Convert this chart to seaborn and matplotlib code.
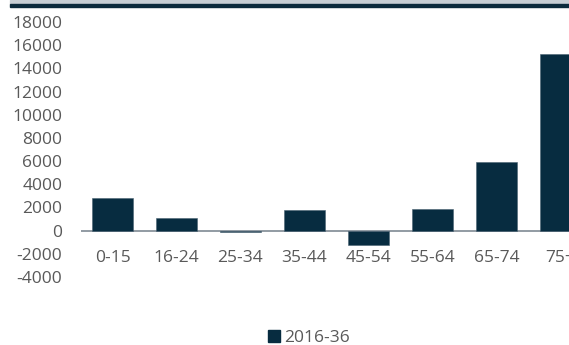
import matplotlib
matplotlib.use("Agg")
import matplotlib.pyplot as plt
import seaborn as sns
import pandas as pd
from matplotlib.patches import Rectangle, Patch

categories = ["0-15", "16-24", "25-34", "35-44", "45-54", "55-64", "65-74", "75+"]
values = [2850, 1100, -80, 1750, -1230, 1870, 5900, 15250]
series_name = "2016-36"
yticks = list(range(-4000, 18001, 2000))

bar_color = "#072c40"
text_color = "#595959"

sns.set_theme(style="white")
plt.rcParams["font.family"] = ["Open Sans", "DejaVu Sans"]

df = pd.DataFrame({"age": categories, "value": values})

fig = plt.figure(figsize=(5.69, 3.45), dpi=100)
ax = fig.add_axes([80.5 / 569, 1 - 277 / 345, 512 / 569, 255 / 345])

sns.barplot(data=df, x="age", y="value", color=bar_color, width=0.64,
            saturation=1, ax=ax, edgecolor="#4a6272", linewidth=0.4)

ax.set_ylim(-4000, 18000)
ax.set_xlim(-0.5, len(categories) - 0.5)
ax.set_yticks(yticks)
ax.set_yticklabels([str(t) for t in yticks])
ax.set_xlabel("")
ax.set_ylabel("")
ax.spines["bottom"].set_position(("data", 0))
for s in ax.spines.values():
    s.set_visible(False)
ax.axhline(0, color="#7f8a93", linewidth=1.2, zorder=0.5)
ax.tick_params(axis="y", length=0, pad=13, labelsize=12.5, labelcolor=text_color)
ax.tick_params(axis="x", length=0, pad=14, labelsize=12.5, labelcolor=text_color)

# top band
fig.patches.append(Rectangle((10 / 569, 1 - 4 / 345), 1, 4 / 345,
                             transform=fig.transFigure, color="#c7ced4", zorder=0))
fig.patches.append(Rectangle((10 / 569, 1 - 6.5 / 345), 1, 2.5 / 345,
                             transform=fig.transFigure, color="#0b2a3c", zorder=0))

handle = Patch(facecolor=bar_color, edgecolor=bar_color)
fig.legend([handle], [series_name], loc="center", bbox_to_anchor=(309 / 569, 1 - 338 / 345),
           frameon=False, fontsize=12.5, labelcolor=text_color, handlelength=0.65,
           handleheight=0.65, handletextpad=0.25, borderpad=0)

fig.savefig("out.png", dpi=100)
